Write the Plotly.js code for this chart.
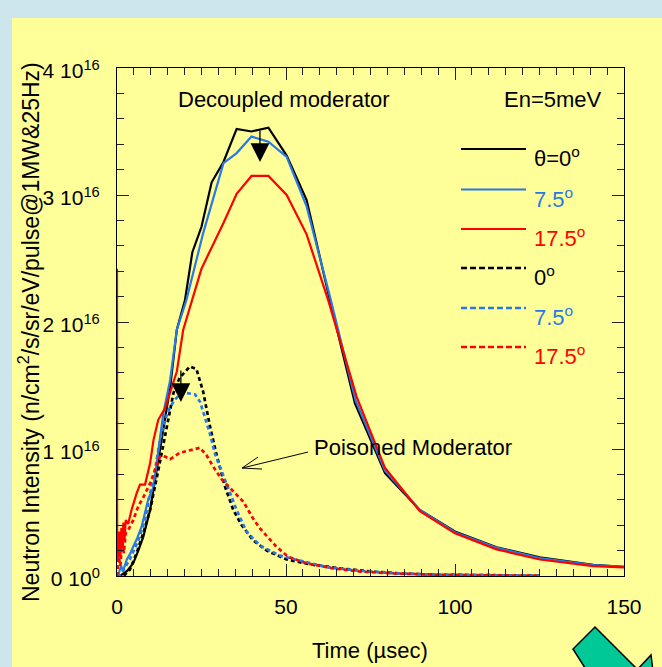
<!DOCTYPE html>
<html><head><meta charset="utf-8">
<script src="https://cdn.plot.ly/plotly-3.0.1.min.js"></script>
<style>html,body{margin:0;padding:0;background:#cde6ee;}#chart{width:662px;height:667px;}</style>
</head><body><div id="chart"></div><script>
// ---- data (time in µsec, intensity in units of 1e16) ----
const seriesNames = ['θ=0<sup>o</sup>', '7.5<sup>o</sup>', '17.5<sup>o</sup>', '0<sup>o</sup>', '7.5<sup>o</sup>', '17.5<sup>o</sup>'];
const seriesColors = ['#000000', '#2878e6', '#ff0000', '#000000', '#2878e6', '#ff0000'];
const seriesDash = ['solid', 'solid', 'solid', '4px,3px', '4px,3px', '4px,3px'];

const tDec0 = [0, 1.4, 3, 4.8, 6.3, 7.8, 9.8, 11.7, 13.7, 15.7, 17.7, 20.1, 22.3, 25, 28, 31.5, 35.4, 39.8, 44.8, 50.2, 56.1, 63, 70.4, 79.3, 89.6, 100, 112.3, 125.1, 140.9, 150];
const vDec0 = [0, 0.01, 0.04, 0.1, 0.2, 0.31, 0.52, 0.83, 1.15, 1.48, 1.94, 2.17, 2.55, 2.75, 3.10, 3.26, 3.52, 3.50, 3.53, 3.31, 2.96, 2.17, 1.36, 0.81, 0.52, 0.35, 0.226, 0.147, 0.087, 0.073];

const tDec75 = [0, 0.4, 1.2, 1.8, 2.9, 3.8, 4.8, 6, 7.3, 9.3, 10.8, 12.2, 13.7, 15.7, 17.7, 20.5, 25.5, 31.5, 35.4, 39.8, 44.8, 50.2, 56.1, 63, 70.6, 79.3, 89.6, 100, 112.3, 125.1, 140.9, 150];
const vDec75 = [0, 0.01, 0.08, 0.04, 0.13, 0.17, 0.23, 0.3, 0.39, 0.61, 0.70, 0.99, 1.28, 1.54, 1.94, 2.17, 2.70, 3.25, 3.33, 3.46, 3.42, 3.30, 2.91, 2.2, 1.38, 0.83, 0.52, 0.345, 0.222, 0.142, 0.085, 0.072];

const tDec175 = [0, 0.05, 0.4, 0.7, 1.0, 1.3, 1.6, 1.9, 2.2, 2.6, 3.3, 4.3, 5.8, 6.8, 8.3, 9.8, 10.8, 12.2, 14.2, 15.7, 17.7, 19.6, 22.1, 25, 31.5, 35.4, 39.8, 44.8, 50.2, 56.1, 62.5, 70.9, 79.3, 89.6, 100, 112.3, 125.1, 140.9, 150];
const vDec175 = [2.42, 0.3, 0.12, 0.35, 0.15, 0.38, 0.22, 0.42, 0.28, 0.44, 0.41, 0.52, 0.65, 0.72, 0.72, 0.89, 1.07, 1.23, 1.32, 1.44, 1.61, 1.94, 2.17, 2.42, 2.78, 3.01, 3.15, 3.15, 3.0, 2.69, 2.17, 1.41, 0.85, 0.51, 0.336, 0.21, 0.13, 0.078, 0.068];

const tPoi0 = [0, 2, 3.8, 5.8, 7.8, 9.8, 12.2, 14.7, 16.7, 18.5, 20.1, 21.6, 23.5, 25.5, 27.5, 29.5, 32, 34.4, 36.9, 40.3, 44.3, 50.2, 57.1, 66, 75.8, 83.7, 95, 110, 125];
const vPoi0 = [0, 0, 0.05, 0.18, 0.34, 0.52, 0.83, 1.18, 1.44, 1.56, 1.61, 1.65, 1.63, 1.45, 1.18, 0.95, 0.70, 0.52, 0.40, 0.28, 0.20, 0.13, 0.092, 0.06, 0.034, 0.02, 0.01, 0.005, 0.003];

const tPoi75 = [0, 0.9, 2.2, 3.8, 6.3, 8.3, 9.8, 11.2, 12.7, 14.2, 15.7, 17.2, 18.6, 20.6, 23.1, 24.6, 26, 27.5, 29, 30.5, 32.4, 35.4, 38.3, 42.3, 48.2, 54.1, 62, 72, 82, 95, 110, 125];
const vPoi75 = [0, 0.01, 0.06, 0.13, 0.28, 0.44, 0.65, 0.83, 1.07, 1.23, 1.33, 1.39, 1.43, 1.44, 1.43, 1.37, 1.25, 1.12, 0.96, 0.86, 0.72, 0.52, 0.35, 0.24, 0.16, 0.12, 0.07, 0.04, 0.022, 0.01, 0.005, 0.003];

const tPoi175 = [0, 0.5, 1, 1.5, 2, 2.6, 3.3, 4.8, 6.3, 7.8, 9.8, 11.2, 12.7, 13.5, 15.7, 18.6, 21.6, 24.6, 26.5, 28.5, 31, 33.9, 37.4, 40.3, 42.3, 44.8, 47.2, 50.7, 56.1, 64, 72, 82, 95, 110, 125];
const vPoi175 = [0, 0.15, 0.08, 0.28, 0.18, 0.34, 0.36, 0.44, 0.55, 0.62, 0.73, 0.83, 0.94, 0.95, 0.92, 0.97, 0.99, 1.01, 0.95, 0.86, 0.76, 0.68, 0.585, 0.45, 0.375, 0.30, 0.23, 0.15, 0.10, 0.06, 0.035, 0.02, 0.01, 0.005, 0.003];

const xTickVals = [0, 50, 100, 150];
const yTickVals = [0, 1, 2, 3, 4];
const yTickText = ['0\u00a010<sup>0</sup>', '1\u00a010<sup>16</sup>', '2\u00a010<sup>16</sup>', '3\u00a010<sup>16</sup>', '4\u00a010<sup>16</sup>'];

// peak-shift markers (tip position)
const markT = [42.3, 18.9];
const markV = [3.26, 1.37];
const poisonArrowT = 37, poisonArrowV = 0.85;

// ---- layout helpers ----
const W = 662, H = 667, L = 117, R = 38, T = 68, B = 91;
const PW = W - L - R, PH = H - T - B;
const px = x => (x - L) / PW;
const py = y => (H - B - y) / PH;
const FONT = 'Arial, "Liberation Sans", sans-serif';

const allT = [tDec0, tDec75, tDec175, tPoi0, tPoi75, tPoi175];
const allV = [vDec0, vDec75, vDec175, vPoi0, vPoi75, vPoi175];

const traces = allT.map((t, i) => ({
  type: 'scatter', mode: 'lines', x: t, y: allV[i], showlegend: false,
  line: {color: seriesColors[i], width: i < 3 ? 2.2 : 2.7, dash: seriesDash[i]},
  hoverinfo: 'skip'
}));

const shapes = [
  {type: 'path', xref: 'paper', yref: 'paper', xsizemode: 'pixel', ysizemode: 'pixel', xanchor: 0, yanchor: 0,
   path: 'M-105,-100 L560,-100 L560,558 L-105,558 Z', fillcolor: '#ffff99', line: {width: 0}, layer: 'below'},
  {type: 'path', xref: 'x', yref: 'y', xsizemode: 'pixel', ysizemode: 'pixel', xanchor: poisonArrowT, yanchor: poisonArrowV,
   path: 'M66,16 L0,0 M16,11 L0,0 L20,-1', line: {color: '#000', width: 1}},
  {type: 'path', xref: 'paper', yref: 'paper', xsizemode: 'pixel', ysizemode: 'pixel', xanchor: 1, yanchor: 0,
   path: 'M-37,-95 L-51,-73 L-29,-51 L15,-95 Z', fillcolor: '#00c896', line: {color: '#000', width: 1.5}},
  {type: 'path', xref: 'paper', yref: 'paper', xsizemode: 'pixel', ysizemode: 'pixel', xanchor: 1, yanchor: 0,
   path: 'M12,-95 L27,-79 L29,-95 Z', fillcolor: '#00c896', line: {color: '#000', width: 1.5}}
];

const legendRowsY = [149, 189.5, 229, 268, 308, 347];
const annotations = [];
legendRowsY.forEach((y, i) => {
  shapes.push({type: 'line', xref: 'paper', yref: 'paper', x0: px(461), x1: px(526), y0: py(y), y1: py(y),
    line: {color: seriesColors[i], width: i < 3 ? 2.2 : 2.7, dash: i < 3 ? 'solid' : '6px,3px'}});
  annotations.push({xref: 'paper', yref: 'paper', x: px(532), y: py(y + 8), xanchor: 'left', yanchor: 'middle',
    text: seriesNames[i], showarrow: false, font: {family: FONT, size: 22, color: seriesColors[i]}});
});

annotations.push(
  {xref: 'paper', yref: 'paper', x: px(284), y: py(99), xanchor: 'center', yanchor: 'middle',
   text: 'Decoupled moderator', showarrow: false, font: {family: FONT, size: 22, color: '#000'}},
  {xref: 'paper', yref: 'paper', x: px(604), y: py(99), xanchor: 'right', yanchor: 'middle',
   text: 'En=5meV', showarrow: false, font: {family: FONT, size: 22, color: '#000'}},
  {xref: 'paper', yref: 'paper', x: px(312), y: py(447), xanchor: 'left', yanchor: 'middle',
   text: 'Poisoned Moderator', showarrow: false, font: {family: FONT, size: 22, color: '#000'}},
  {xref: 'paper', yref: 'paper', x: px(370), y: py(650), xanchor: 'center', yanchor: 'middle',
   text: 'Time (µsec)', showarrow: false, font: {family: FONT, size: 22, color: '#000'}},
  {xref: 'paper', yref: 'paper', x: px(29), y: py(332), xanchor: 'center', yanchor: 'middle', textangle: -90,
   text: 'Neutron Intensity (n/cm<sup>2</sup>/s/sr/eV/pulse@1MW&amp;25Hz)', showarrow: false,
   font: {family: FONT, size: 23, color: '#000'}}
);
markT.forEach((t, i) => annotations.push({
  x: t, y: markV[i], xref: 'x', yref: 'y', text: '', showarrow: true, ax: 0, ay: -33,
  arrowhead: 2, arrowsize: 2.9, arrowwidth: 1.3, arrowcolor: '#000', standoff: 0, startstandoff: 0
}));

const axisCommon = {
  showgrid: false, zeroline: false, showline: true, linecolor: '#000', linewidth: 1, mirror: 'ticks',
  ticks: 'inside', ticklen: 12, tickwidth: 1, tickcolor: '#222',
  tickfont: {family: FONT, size: 21, color: '#000'}
};

const layout = {
  width: W, height: H, margin: {l: L, r: R, t: T, b: B},
  paper_bgcolor: '#cde6ee', plot_bgcolor: 'rgba(0,0,0,0)',
  showlegend: false,
  xaxis: Object.assign({}, axisCommon, {range: [0, 150], tickmode: 'array', tickvals: xTickVals,
    ticklabelstandoff: 12, minor: {dtick: 5, ticks: 'inside', ticklen: 7, tickcolor: '#222', tickwidth: 1, showgrid: false}}),
  yaxis: Object.assign({}, axisCommon, {range: [0, 4], tickmode: 'array', tickvals: yTickVals, ticktext: yTickText,
    ticklabelstandoff: 12, ticklabelshift: 3,
    minor: {dtick: 0.2, ticks: 'inside', ticklen: 7, tickcolor: '#222', tickwidth: 1, showgrid: false}}),
  shapes: shapes, annotations: annotations
};

Plotly.newPlot('chart', traces, layout, {displayModeBar: false, staticPlot: true});
</script></body></html>
